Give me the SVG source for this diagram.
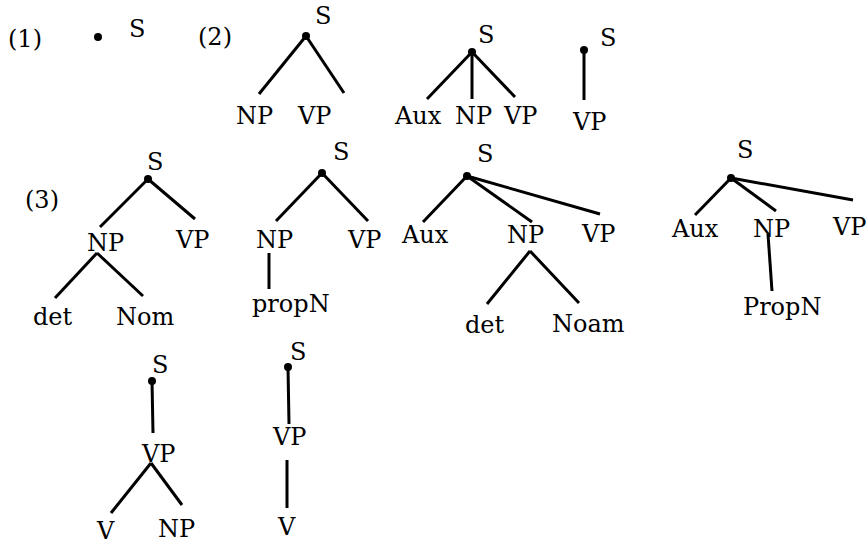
<svg xmlns="http://www.w3.org/2000/svg" width="866" height="544" viewBox="0 0 866 544">
<style>
text{font-family:"DejaVu Serif","Liberation Serif","Times New Roman",serif;font-size:24px;fill:#000}
line{stroke:#000;stroke-width:3}
circle{fill:#000}
</style>
<rect width="866" height="544" fill="#fff"/>
<g id="labels">
<text x="8" y="47">(1)</text>
<text x="198" y="45">(2)</text>
<text x="25" y="208">(3)</text>
</g>
<g id="connectors">
<line x1="306" y1="36" x2="259" y2="94"/>
<line x1="306" y1="36" x2="344" y2="93"/>
<line x1="472" y1="52" x2="427" y2="99"/>
<line x1="472" y1="52" x2="472" y2="99"/>
<line x1="472" y1="52" x2="515" y2="97"/>
<line x1="584" y1="50" x2="584" y2="100"/>
<line x1="148" y1="179" x2="100" y2="227"/>
<line x1="148" y1="179" x2="195" y2="219"/>
<line x1="97" y1="253" x2="55" y2="298"/>
<line x1="97" y1="253" x2="143" y2="296"/>
<line x1="322" y1="173" x2="276" y2="221"/>
<line x1="322" y1="173" x2="368" y2="221"/>
<line x1="269" y1="253" x2="269" y2="289"/>
<line x1="467" y1="176" x2="423" y2="222"/>
<line x1="467" y1="176" x2="532" y2="222"/>
<line x1="467" y1="176" x2="600" y2="214"/>
<line x1="530" y1="251" x2="487" y2="304"/>
<line x1="530" y1="251" x2="579" y2="303"/>
<line x1="731" y1="178" x2="695" y2="215"/>
<line x1="731" y1="178" x2="776" y2="211"/>
<line x1="731" y1="178" x2="853" y2="200"/>
<line x1="768" y1="234" x2="772" y2="291"/>
<line x1="152" y1="381" x2="153" y2="433"/>
<line x1="151" y1="463" x2="111" y2="513"/>
<line x1="151" y1="463" x2="182" y2="505"/>
<line x1="288" y1="367" x2="289" y2="424"/>
<line x1="287" y1="460" x2="287" y2="508"/>
</g>
<g id="t1"><circle cx="98" cy="37" r="4"/><text x="129" y="37">S</text></g>
<g id="t2a">
<circle cx="306" cy="36" r="4"/><text x="315" y="24">S</text>
<text x="236" y="124">NP</text><text x="298" y="124">VP</text>
</g>
<g id="t2b">
<circle cx="472" cy="52" r="4"/><text x="478" y="43">S</text>
<text x="395" y="124">Aux</text><text x="455" y="124">NP</text><text x="504" y="124">VP</text>
</g>
<g id="t2c">
<circle cx="584" cy="50" r="4"/><text x="600" y="46">S</text>
<text x="573" y="130">VP</text>
</g>
<g id="t3a">
<circle cx="148" cy="179" r="4"/><text x="147" y="170">S</text>
<text x="87" y="251">NP</text><text x="176" y="248">VP</text>
<text x="33" y="325">det</text><text x="116" y="325">Nom</text>
</g>
<g id="t3b">
<circle cx="322" cy="173" r="4"/><text x="333" y="160">S</text>
<text x="256" y="248">NP</text><text x="348" y="248">VP</text>
<text x="252" y="312">propN</text>
</g>
<g id="t3c">
<circle cx="467" cy="176" r="4"/><text x="477" y="162">S</text>
<text x="402" y="243">Aux</text><text x="507" y="243">NP</text><text x="582" y="242">VP</text>
<text x="465" y="333">det</text><text x="552" y="332">Noam</text>
</g>
<g id="t3d">
<circle cx="731" cy="178" r="4"/><text x="737" y="158">S</text>
<text x="672" y="237">Aux</text><text x="753" y="237">NP</text><text x="833" y="235">VP</text>
<text x="743" y="315">PropN</text>
</g>
<g id="t4a">
<circle cx="152" cy="381" r="4"/><text x="152" y="373">S</text>
<text x="142" y="462">VP</text>
<text x="97" y="539">V</text><text x="158" y="537">NP</text>
</g>
<g id="t4b">
<circle cx="288" cy="367" r="4"/><text x="290" y="360">S</text>
<text x="273" y="445">VP</text>
<text x="278" y="535">V</text>
</g>
</svg>
